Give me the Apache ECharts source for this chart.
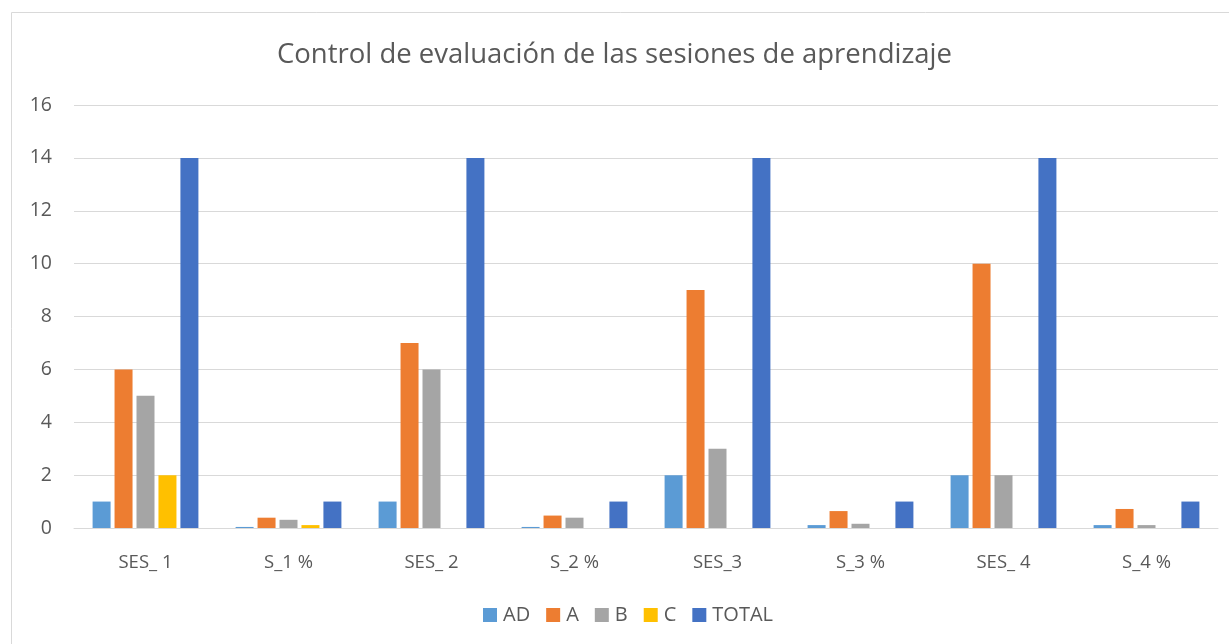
<!DOCTYPE html>
<html>
<head>
<meta charset="utf-8">
<script src="https://cdn.jsdelivr.net/npm/echarts@6/dist/echarts.min.js"></script>
<style>
  html, body { margin: 0; padding: 0; background: #fff; }
  #chart { width: 1229px; height: 644px; }
</style>
</head>
<body>
<div id="chart"></div>
<script>
const categories = ['SES_ 1', 'S_1 %', 'SES_ 2', 'S_2 %', 'SES_3', 'S_3 %', 'SES_ 4', 'S_4 %']
const seriesNames = ['AD', 'A', 'B', 'C', 'TOTAL']
const adValues = [1, 0.04, 1, 0.04, 2, 0.11, 2, 0.11]
const aValues = [6, 0.39, 7, 0.47, 9, 0.64, 10, 0.72]
const bValues = [5, 0.31, 6, 0.39, 3, 0.16, 2, 0.11]
const cValues = [2, 0.11, 0, 0, 0, 0, 0, 0]
const totalValues = [14, 1, 14, 1, 14, 1, 14, 1]
const yTicks = [0, 2, 4, 6, 8, 10, 12, 14, 16]

const colors = ['#5B9BD5', '#ED7D31', '#A5A5A5', '#FFC000', '#4472C4']
const font = '"Open Sans", sans-serif'

const chart = echarts.init(document.getElementById('chart'))

const dataSets = [adValues, aValues, bValues, cValues, totalValues]
const series = seriesNames.map((name, i) => {
  return {
    name: name,
    type: 'bar',
    data: dataSets[i],
    itemStyle: { color: colors[i] },
    barGap: '22%',
    barCategoryGap: '26%'
  }
})

chart.setOption({
  animation: false,
  color: colors,
  graphic: [{
    type: 'rect',
    shape: { x: 11.5, y: 12.5, width: 1240, height: 640 },
    style: { fill: 'none', stroke: '#d9d9d9', lineWidth: 1 },
    silent: true
  }],
  title: {
    text: 'Control de evaluación de las sesiones de aprendizaje',
    left: 'center',
    top: 36,
    textStyle: {
      fontFamily: font,
      fontSize: 27.5,
      fontWeight: 'normal',
      color: '#595959'
    }
  },
  legend: {
    data: seriesNames,
    top: 600,
    left: 478,
    icon: 'rect',
    itemWidth: 14,
    itemHeight: 14,
    itemGap: 16,
    textStyle: { fontFamily: font, fontSize: 20, color: '#595959', padding: [0, 0, 0, 1] }
  },
  grid: {
    left: 74,
    right: 11,
    top: 105,
    bottom: 116
  },
  xAxis: {
    type: 'category',
    data: categories,
    axisLine: { lineStyle: { color: '#d9d9d9', width: 1 } },
    axisTick: { show: false },
    axisLabel: {
      fontFamily: font,
      fontSize: 18.5,
      color: '#595959',
      margin: 25
    }
  },
  yAxis: {
    type: 'value',
    min: yTicks[0],
    max: yTicks[yTicks.length - 1],
    interval: 2,
    axisLine: { show: false },
    axisTick: { show: false },
    axisLabel: {
      fontFamily: font,
      fontSize: 19.5,
      color: '#595959',
      margin: 22
    },
    splitLine: { lineStyle: { color: '#d9d9d9', width: 1 } }
  },
  series: series
})
</script>
</body>
</html>
